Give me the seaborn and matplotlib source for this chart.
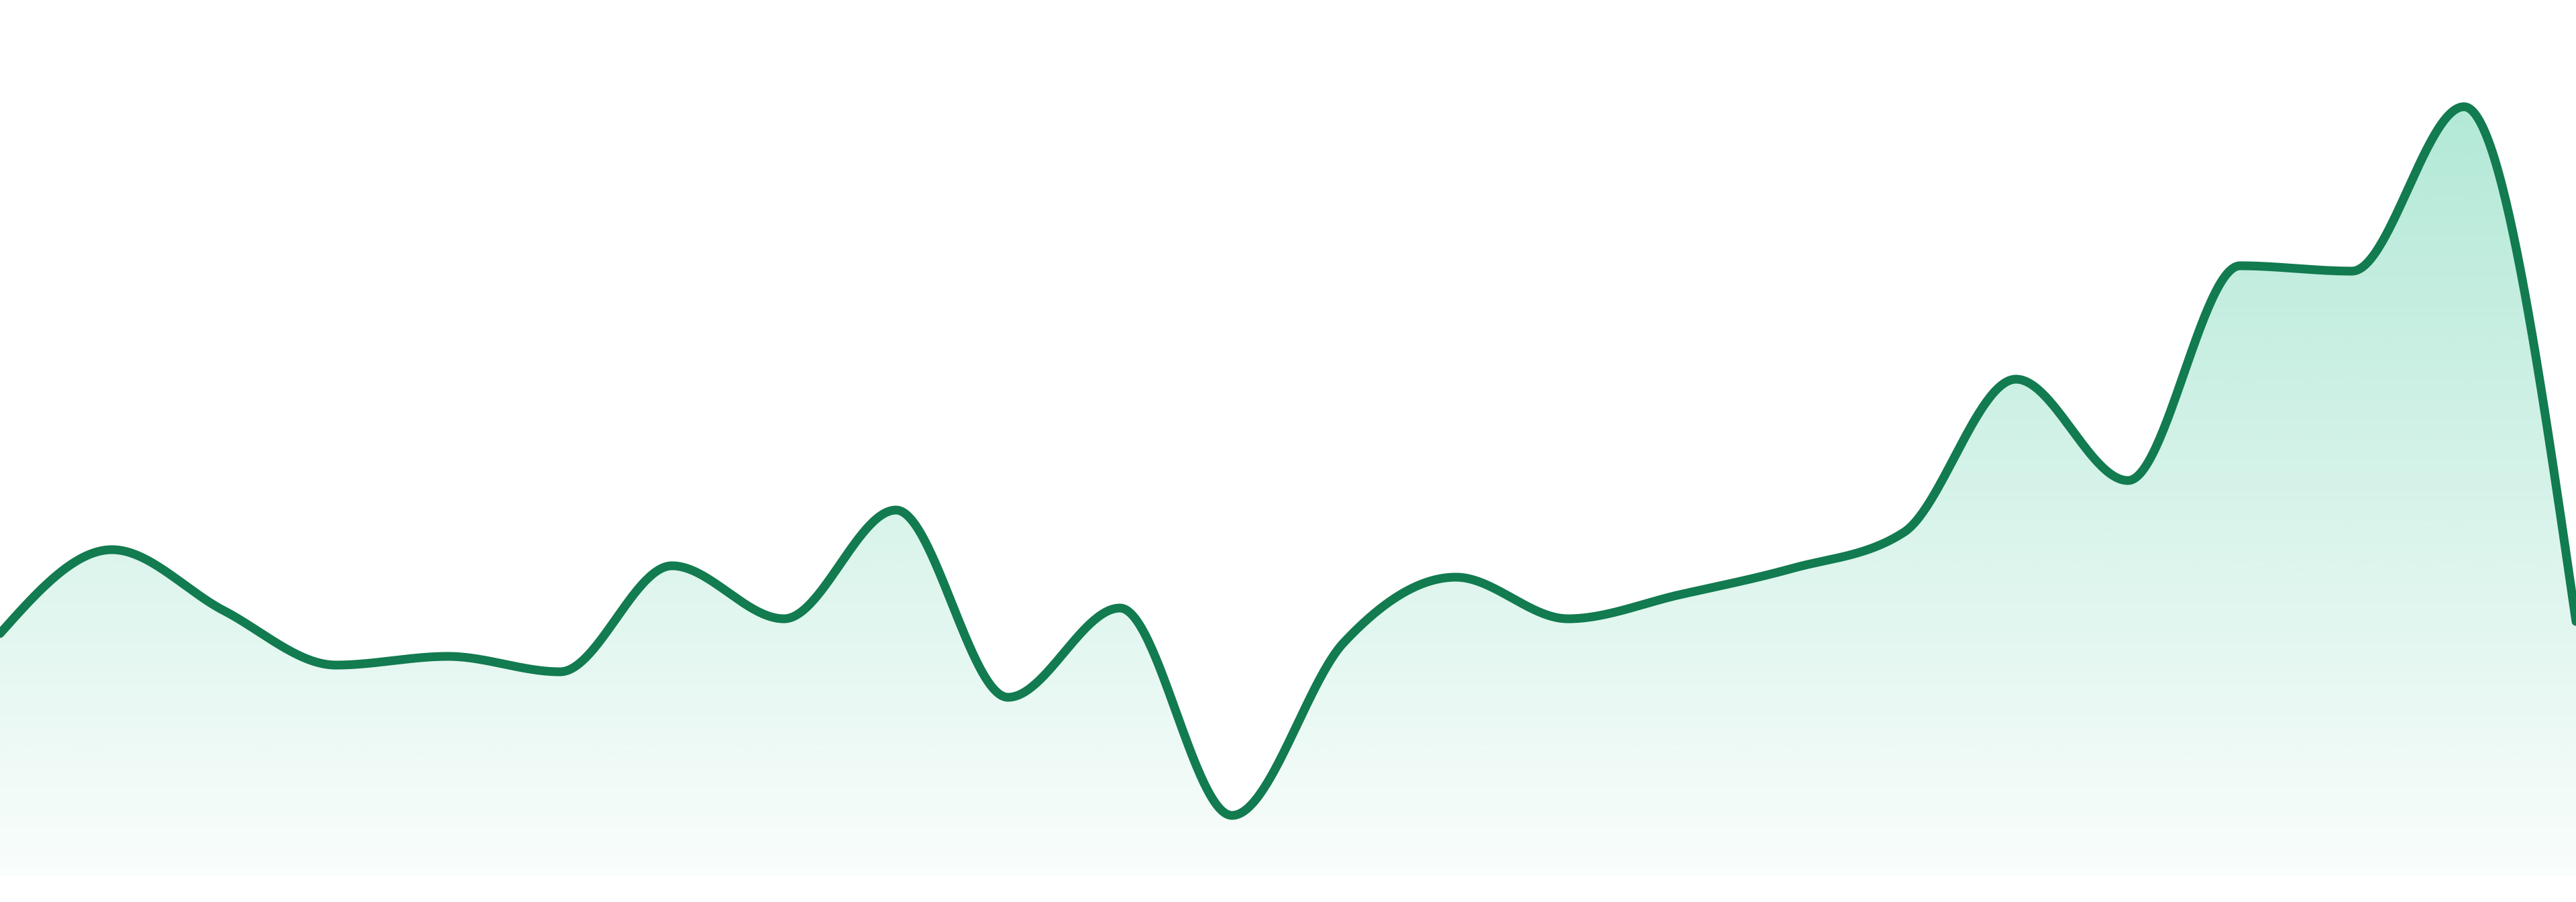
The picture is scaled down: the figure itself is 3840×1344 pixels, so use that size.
import numpy as np
import pandas as pd
import matplotlib
matplotlib.use("Agg")
import matplotlib.pyplot as plt
import seaborn as sns
from matplotlib.colors import to_rgb

# ---- data ----
points = list(range(24))
values = [361, 486, 395, 314, 327, 304, 462, 383, 545, 266, 399, 90,
          348, 445, 383, 419, 458, 512, 740, 589, 909, 901, 1146, 379]

line_color = "#127b50"
fill_color = "#10b981"


def monotone_x(x, y, per_seg=60):
    """Monotone cubic interpolation (same rule as d3.curveMonotoneX)."""
    x = np.asarray(x, float)
    y = np.asarray(y, float)
    n = len(x)
    h = np.diff(x)
    s = np.diff(y) / h
    t = np.zeros(n)
    for i in range(1, n - 1):
        h0, h1 = h[i - 1], h[i]
        s0, s1 = s[i - 1], s[i]
        p = (s0 * h1 + s1 * h0) / (h0 + h1)
        t[i] = (np.sign(s0) + np.sign(s1)) * min(abs(s0), abs(s1), 0.5 * abs(p))
    t[0] = (3 * s[0] - t[1]) / 2
    t[-1] = (3 * s[-1] - t[-2]) / 2
    xs, ys = [], []
    for i in range(n - 1):
        u = np.linspace(0, 1, per_seg, endpoint=(i == n - 2))
        dx = h[i]
        h00 = 2 * u**3 - 3 * u**2 + 1
        h10 = u**3 - 2 * u**2 + u
        h01 = -2 * u**3 + 3 * u**2
        h11 = u**3 - u**2
        xs.append(x[i] + u * dx)
        ys.append(h00 * y[i] + h10 * dx * t[i] + h01 * y[i + 1] + h11 * dx * t[i + 1])
    return np.concatenate(xs), np.concatenate(ys)


sns.set_theme(style="white")

W, H, DPI = 3840, 1344, 200
fig = plt.figure(figsize=(W / DPI, H / DPI), dpi=DPI, facecolor="white")
ax = fig.add_axes([0, 39 / H, 1, 1305 / H])
ax.set_facecolor("white")

xs, ys = monotone_x(points, values)
df = pd.DataFrame({"x": xs, "y": ys})

# gradient fill under the curve
poly = ax.fill_between(df["x"], df["y"], 0, color="none", linewidth=0)
top = max(values)
nrow = 512
alpha = np.linspace(0.32, 0.025, nrow)
rgb = to_rgb(fill_color)
img = np.zeros((nrow, 1, 4))
img[:, 0, 0], img[:, 0, 1], img[:, 0, 2] = rgb
img[:, 0, 3] = alpha
im = ax.imshow(img, aspect="auto", extent=[points[0], points[-1], 0, top],
               origin="upper", interpolation="bilinear", zorder=1)
clip_path = poly.get_paths()[0]
im.set_clip_path(clip_path, transform=ax.transData)

sns.lineplot(data=df, x="x", y="y", ax=ax, color=line_color, linewidth=4.7,
             estimator=None, sort=False, zorder=3, solid_capstyle="round")

ax.set_xlim(points[0], points[-1])
ax.set_ylim(0, 1305)
ax.set_axis_off()
fig.savefig("out.png", dpi=DPI, facecolor="white")
